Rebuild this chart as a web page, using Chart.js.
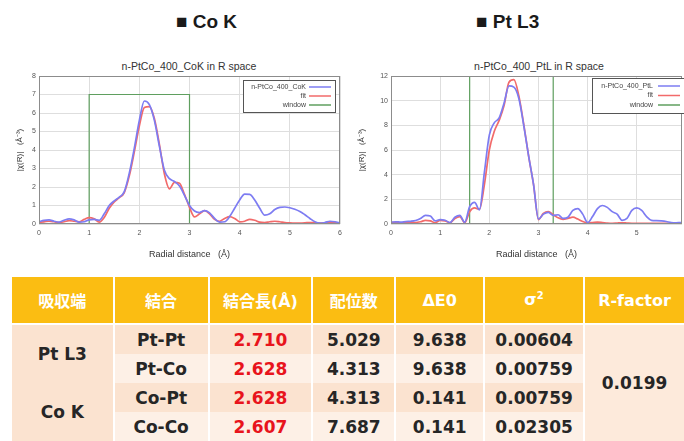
<!DOCTYPE html>
<html>
<head>
<meta charset="utf-8">
<script src="https://cdn.jsdelivr.net/npm/chart.js@4.4.1/dist/chart.umd.min.js"></script>
<style>
  body { margin: 0; width: 684px; height: 441px; overflow: hidden; background: #fff;
         font-family: "Liberation Sans", Arial, sans-serif; position: relative; }
  .head { position: absolute; top: 11px; font-weight: bold; font-size: 19px; color: #1a1a1a; white-space: nowrap; }
  .ctitle { position: absolute; top: 60px; width: 300px; font-size: 10.5px; color: #333; text-align: center; }
  canvas { position: absolute; }
  #fit { position: absolute; left: 10px; top: 277px; border-collapse: collapse; table-layout: fixed;
         font-family: "DejaVu Sans", "Noto Sans CJK JP", sans-serif; font-weight: bold; }
  #fit th { background: #fbbd12; color: #fff; font-size: 16px; height: 46px; padding: 0;
            border-left: 2px solid #fff; border-bottom: 2px solid #fff; }
  #fit td { height: 29px; padding: 0; text-align: center; font-size: 17px; color: #262626;
            border-left: 2px solid #fff; }
  #fit tr.odd td { background: #fbe3d0; }
  #fit tr.even td { background: #fdf0e6; }
  #fit td.edge { background: #fbe3d0 !important; }
  #fit td.rf { background: #fdeadb !important; }
  #fit td.len { color: #e8141c; }
</style>
</head>
<body>

<div class="head" style="left:176px">■ Co K</div>
<div class="head" style="left:476px">■ Pt L3</div>
<div class="ctitle" style="left:39px">n-PtCo_400_CoK in R space</div>
<div class="ctitle" style="left:389px">n-PtCo_400_PtL in R space</div>

<canvas id="cok" width="342" height="204" style="left:0;top:56px"></canvas>
<canvas id="ptl" width="342" height="204" style="left:342px;top:56px"></canvas>

<table id="fit"><colgroup>
  <col style="width:103px"><col style="width:95px"><col style="width:104px"><col style="width:83px">
  <col style="width:89px"><col style="width:100px"><col style="width:100px">
</colgroup><tbody id="fitBody"></tbody></table>

<script>
// radial distance grid (Å)
const rGrid = [0.0,0.1,0.2,0.3,0.4,0.5,0.6,0.7,0.8,0.9,1.0,1.1,1.2,1.3,1.4,1.5,1.6,1.7,1.8,1.9,
  2.0,2.1,2.2,2.3,2.4,2.5,2.6,2.7,2.8,2.9,3.0,3.1,3.2,3.3,3.4,3.5,3.6,3.7,3.8,3.9,
  4.0,4.1,4.2,4.3,4.4,4.5,4.6,4.7,4.8,4.9,5.0,5.1,5.2,5.3,5.4,5.5,5.6,5.7,5.8,5.9,6.0];

// Co K edge |chi(R)|
const coKData = [0.12,0.2,0.22,0.15,0.1,0.2,0.28,0.22,0.1,0.12,0.22,0.25,0.2,0.55,1.0,1.25,1.45,1.75,2.75,4.1,
  5.6,6.65,6.45,5.6,4.2,2.9,2.45,2.3,2.05,1.55,1.0,0.7,0.62,0.72,0.6,0.3,0.1,0.12,0.4,0.85,
  1.3,1.62,1.6,1.3,0.85,0.48,0.55,0.78,0.9,0.92,0.88,0.8,0.68,0.5,0.3,0.12,0.05,0.08,0.15,0.12,0.05];
const coKFit = [0.1,0.12,0.15,0.12,0.08,0.12,0.18,0.15,0.12,0.25,0.35,0.28,0.1,0.35,0.85,1.2,1.42,1.7,2.6,3.9,
  5.3,6.3,6.35,5.7,4.3,2.7,1.9,2.25,2.2,1.6,0.9,0.38,0.55,0.72,0.55,0.25,0.15,0.3,0.4,0.3,
  0.12,0.15,0.25,0.2,0.1,0.08,0.12,0.15,0.12,0.08,0.06,0.05,0.05,0.06,0.08,0.06,0.05,0.06,0.08,0.06,0.05];
const coKWindowR = [1, 1, 3, 3];
const coKWindowY = [0, 7, 7, 0];

// Pt L3 edge |chi(R)|
const ptData = [0.15,0.18,0.15,0.2,0.22,0.28,0.45,0.7,0.65,0.25,0.35,0.3,0.12,0.55,0.7,0.15,1.4,1.75,1.15,4.2,
  7.2,8.2,8.6,9.8,11.2,11.1,10.2,8.0,5.5,3.2,0.4,0.8,0.95,0.7,0.75,0.45,0.55,1.1,1.25,0.8,
  0.12,0.6,1.25,1.5,1.35,1.0,0.8,0.3,0.45,1.1,1.3,1.1,0.6,0.3,0.28,0.25,0.2,0.12,0.1,0.12,0.1];
const ptFit = [0.12,0.12,0.1,0.12,0.15,0.12,0.18,0.3,0.25,0.1,0.3,0.25,0.1,0.45,0.6,0.1,1.0,1.3,1.2,3.2,
  6.0,7.5,8.4,9.6,11.5,11.7,10.4,8.1,5.5,3.2,0.35,0.85,1.0,0.75,0.5,0.38,0.45,0.55,0.4,0.2,
  0.1,0.12,0.15,0.12,0.08,0.06,0.08,0.1,0.08,0.06,0.05,0.06,0.05,0.05,0.06,0.05,0.05,0.06,0.05,0.05,0.05];
const ptWindowR = [1.6, 1.6, 3.3, 3.3];
const ptWindowY = [0, 12, 12, 0];

// fit results table
const edges = ['Pt L3', 'Co K'];
const bonds = ['Pt-Pt', 'Pt-Co', 'Co-Pt', 'Co-Co'];
const bondLengths = ['2.710', '2.628', '2.628', '2.607'];
const coordNumbers = ['5.029', '4.313', '4.313', '7.687'];
const deltaE0 = ['9.638', '9.638', '0.141', '0.141'];
const sigma2 = ['0.00604', '0.00759', '0.00759', '0.02305'];
const rFactor = '0.0199';
const headers = ['吸収端', '結合', '結合長(Å)', '配位数', 'ΔE0', 'σ<sup style="font-size:10px">2</sup>', 'R-factor'];

const BLUE = '#7d7cf2', RED = '#f26a6a', GREEN = '#5f9f5f';

const pts = (xs, ys) => xs.map((x, i) => ({ x: x, y: ys[i] }));

const frame = {
  id: 'frame',
  afterDatasetsDraw(chart) {
    const { ctx, chartArea: a } = chart;
    ctx.save();
    ctx.strokeStyle = '#8c8c8c';
    ctx.lineWidth = 1;
    ctx.strokeRect(a.left + 0.5, a.top + 0.5, a.width - 1, a.height - 1);
    ctx.restore();
  }
};

const boxLegend = {
  id: 'boxLegend',
  afterDraw(chart, args, o) {
    const ctx = chart.ctx;
    ctx.save();
    ctx.fillStyle = '#fff';
    ctx.fillRect(o.x, o.y, o.w, o.h);
    ctx.strokeStyle = '#555';
    ctx.lineWidth = 1;
    ctx.strokeRect(o.x + 0.5, o.y + 0.5, o.w, o.h);
    ctx.font = '7px "Liberation Sans", Arial';
    ctx.textAlign = 'right';
    ctx.textBaseline = 'middle';
    chart.data.datasets.forEach((d, i) => {
      const y = o.rowY + i * o.gap;
      ctx.fillStyle = '#444';
      ctx.fillText(d.label, o.textRight, y);
      ctx.strokeStyle = d.borderColor;
      ctx.lineWidth = 1.5;
      ctx.beginPath();
      ctx.moveTo(o.lineX0, y);
      ctx.lineTo(o.lineX1, y);
      ctx.stroke();
    });
    ctx.restore();
  }
};

function makeChart(id, sample, data, fit, winR, winY, xMax, yMax, yStep, axisW, legendOpts) {
  return new Chart(document.getElementById(id), {
    type: 'line',
    data: {
      datasets: [
        { label: sample, data: pts(rGrid, data), borderColor: BLUE, borderWidth: 1.7,
          pointRadius: 0, cubicInterpolationMode: 'monotone' },
        { label: 'fit', data: pts(rGrid, fit), borderColor: RED, borderWidth: 1.7,
          pointRadius: 0, cubicInterpolationMode: 'monotone' },
        { label: 'window', data: pts(winR, winY), borderColor: GREEN, borderWidth: 1.2,
          pointRadius: 0, tension: 0 }
      ]
    },
    options: {
      responsive: false,
      animation: false,
      layout: { padding: { top: 20, right: 2, left: 0, bottom: 0 } },
      plugins: { legend: { display: false }, tooltip: { enabled: false }, boxLegend: legendOpts },
      scales: {
        x: {
          type: 'linear', min: 0, max: xMax,
          ticks: { stepSize: 1, includeBounds: false, padding: 5, color: '#555', font: { size: 7 } },
          grid: { color: '#dedede', drawTicks: false },
          border: { display: false },
          title: { display: true, text: 'Radial distance   (Å)', color: '#333', font: { size: 9 },
                   padding: { top: 6.6, bottom: 0 } },
          afterFit: s => { s.height = 36; s.paddingLeft = 0; s.paddingRight = 0; }
        },
        y: {
          min: 0, max: yMax,
          ticks: { stepSize: yStep, padding: 3, color: '#555', font: { size: 7 } },
          grid: { color: '#dedede', drawTicks: false },
          border: { display: false },
          title: { display: true, text: '|χ(R)|   (Å⁻³)', color: '#333', font: { size: 8 },
                   padding: { top: 15, bottom: 0 } },
          afterFit: s => { s.width = axisW; s.paddingTop = 0; s.paddingBottom = 0; }
        }
      }
    },
    plugins: [frame, boxLegend]
  });
}

makeChart('cok', 'n-PtCo_400_CoK', coKData, coKFit, coKWindowR, coKWindowY, 6, 8, 1, 39,
  { x: 243, y: 24, w: 92, h: 32, rowY: 31, gap: 9, textRight: 306, lineX0: 309, lineX1: 331 });
makeChart('ptl', 'n-PtCo_400_PtL', ptData, ptFit, ptWindowR, ptWindowY, 5.92, 12, 2, 49,
  { x: 250, y: 22, w: 100, h: 35, rowY: 30, gap: 9.5, textRight: 311, lineX0: 316, lineX1: 338 });

// build the table
const body = document.getElementById('fitBody');
let html = '<tr>' + headers.map(h => '<th>' + h + '</th>').join('') + '</tr>';
bonds.forEach((b, i) => {
  html += '<tr class="' + (i % 2 ? 'even' : 'odd') + '">';
  if (i % 2 === 0) html += '<td class="edge" rowspan="2">' + edges[i / 2] + '</td>';
  html += '<td>' + b + '</td><td class="len">' + bondLengths[i] + '</td><td>' + coordNumbers[i] +
          '</td><td>' + deltaE0[i] + '</td><td>' + sigma2[i] + '</td>';
  if (i === 0) html += '<td class="rf" rowspan="4">' + rFactor + '</td>';
  html += '</tr>';
});
body.innerHTML = html;
</script>
</body>
</html>
